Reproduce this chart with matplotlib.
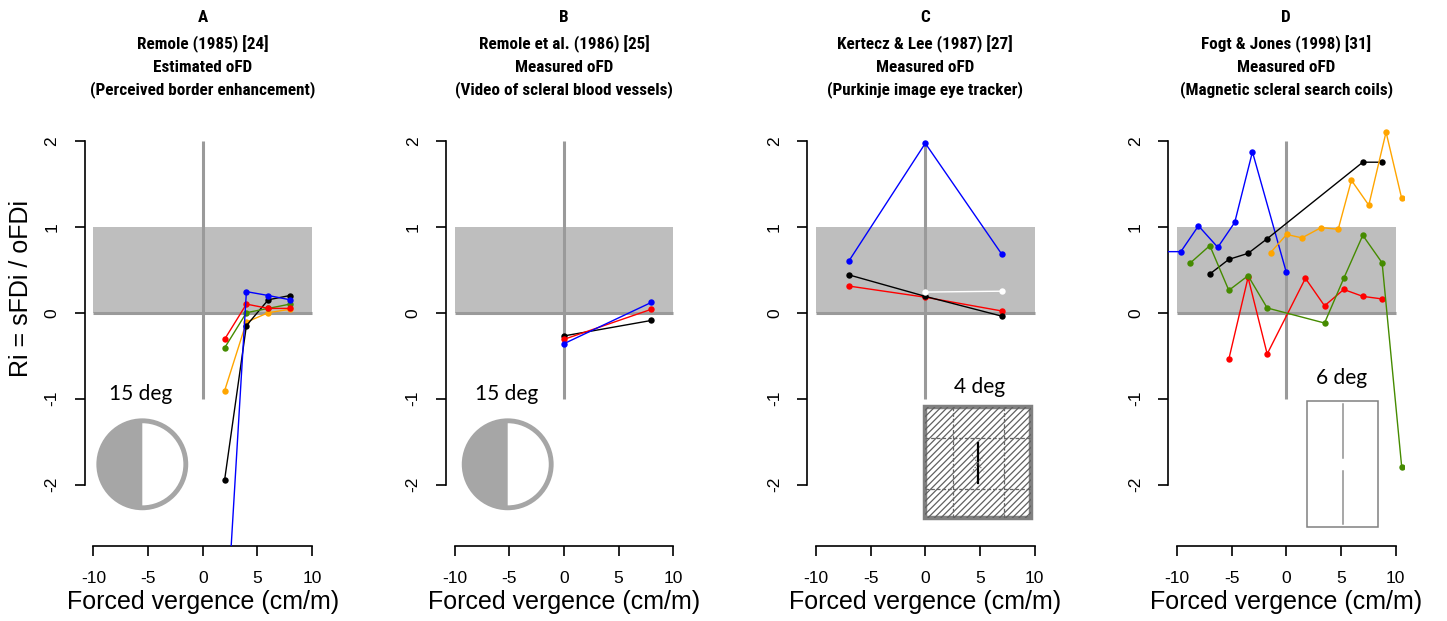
import matplotlib
matplotlib.use("Agg")
import matplotlib.pyplot as plt
from matplotlib.patches import Rectangle, Wedge, Circle
from matplotlib import font_manager
import numpy as np

# ---------------- data ----------------
A_x = [2, 4, 6, 8]
A_blue = [-4.0, 0.245, 0.20, 0.15]
A_red = [-0.31, 0.10, 0.05, 0.05]
A_green = [-0.41, 0.0, 0.05, 0.10]
A_orange = [-0.91, -0.11, 0.0, 0.04]
A_black = [-1.95, -0.15, 0.15, 0.20]

B_x = [0, 8]
B_black = [-0.27, -0.09]
B_red = [-0.31, 0.04]
B_blue = [-0.36, 0.12]

C_x = [-7, 0, 7]
C_blue = [0.60, 1.97, 0.68]
C_black = [0.44, 0.19, -0.04]
C_red = [0.31, 0.18, 0.02]
C_white_x = [0, 7]
C_white = [0.24, 0.25]

D_blue_x = [-11.3, -9.65, -8.04, -6.27, -4.72, -3.1, 0]
D_blue = [0.71, 0.71, 1.01, 0.76, 1.05, 1.87, 0.47]
D_black_x = [-7.0, -5.26, -3.5, -1.75, 7.0, 8.77]
D_black = [0.45, 0.62, 0.69, 0.86, 1.75, 1.75]
D_orange_x = [-1.43, 0.03, 1.43, 3.19, 4.75, 5.96, 7.55, 9.13, 10.56]
D_orange = [0.70, 0.91, 0.87, 0.99, 0.97, 1.54, 1.25, 2.10, 1.33]
D_red_x = [-5.26, -3.5, -1.75, 1.75, 3.5, 5.26, 7.0, 8.77]
D_red = [-0.54, 0.41, -0.48, 0.40, 0.08, 0.27, 0.19, 0.16]
D_green_x = [-8.77, -7.0, -5.26, -3.5, -1.75, 3.5, 5.26, 7.0, 8.77, 10.56]
D_green = [0.58, 0.78, 0.26, 0.43, 0.055, -0.12, 0.40, 0.90, 0.58, -1.79]

titles = [
    ["A", "Remole (1985) [24]", "Estimated oFD", "(Perceived border enhancement)"],
    ["B", "Remole et al. (1986) [25]", "Measured oFD", "(Video of scleral blood vessels)"],
    ["C", "Kertecz & Lee (1987) [27]", "Measured oFD", "(Purkinje image eye tracker)"],
    ["D", "Fogt & Jones (1998) [31]", "Measured oFD", "(Magnetic scleral search coils)"],
]
x_ticks = [-10, -5, 0, 5, 10]
y_ticks = [-2, -1, 0, 1, 2]
xlabel = "Forced vergence (cm/m)"
ylabel = "Ri = sFDi / oFDi"

BLUE = "#0000FF"; RED = "#FF0000"; GREEN = "#458B00"; ORANGE = "#FFA500"; BLACK = "#000000"

series = [
    [(A_x, A_orange, ORANGE), (A_x, A_black, BLACK), (A_x, A_green, GREEN), (A_x, A_red, RED), (A_x, A_blue, BLUE)],
    [(B_x, B_black, BLACK), (B_x, B_red, RED), (B_x, B_blue, BLUE)],
    [(C_x, C_blue, BLUE), (C_x, C_red, RED), (C_x, C_black, BLACK), (C_white_x, C_white, "#FFFFFF")],
    [(D_blue_x, D_blue, BLUE), (D_black_x, D_black, BLACK), (D_orange_x, D_orange, ORANGE),
     (D_red_x, D_red, RED), (D_green_x, D_green, GREEN)],
]


def first_font(cands):
    for name in cands:
        try:
            font_manager.findfont(font_manager.FontProperties(family=name, weight="bold"),
                                  fallback_to_default=False)
            return name
        except Exception:
            pass
    return None


narrow = first_font(['Liberation Sans Narrow', 'Arial Narrow', 'Roboto Condensed',
                     'Open Sans Condensed', 'PT Sans Narrow', 'Nimbus Sans Narrow'])
if narrow is not None:
    title_family = [narrow, 'Liberation Sans', 'DejaVu Sans']
    title_size = 12.3
    title_stretch = 'normal'
else:
    title_family = ['Liberation Sans', 'DejaVu Sans']
    title_size = 10.3
    title_stretch = 'normal'

# ---------------- layout ----------------
W, H = 1447, 621
fig = plt.figure(figsize=(W / 100, H / 100), dpi=100)
plt.rcParams['font.family'] = ['Liberation Sans', 'DejaVu Sans']

lefts = [84.7, 446.0, 807.3, 1168.3]
ax_w = 236.0
XLIM = (-10.8, 10.8)
YLIM = (-2.71, 2.3)
ppu_y = 86.0
y0_px = 312.7
bottom_px = y0_px - YLIM[0] * ppu_y
top_px = y0_px - YLIM[1] * ppu_y

title_y = [18, 44, 67, 90]

for i in range(4):
    ax = fig.add_axes([lefts[i] / W, 1 - bottom_px / H, ax_w / W, (bottom_px - top_px) / H])
    ax.set_xlim(*XLIM)
    ax.set_ylim(*YLIM)
    ax.add_patch(Rectangle((-10, 0), 20, 1, facecolor="#BEBEBE", edgecolor="none", zorder=1))
    ax.plot([-10, 10], [0, 0], color="#9A9A9A", lw=2.2, zorder=2, solid_capstyle="butt")
    ax.plot([0, 0], [-1, 2], color="#9A9A9A", lw=2.2, zorder=2, solid_capstyle="butt")
    for xs, ys, c in series[i]:
        ax.plot(xs, ys, color=c, lw=1.0, marker="o", markersize=4.6, markeredgewidth=0, zorder=3)
    for s in ["top", "right"]:
        ax.spines[s].set_visible(False)
    ax.spines["left"].set_bounds(-2, 2)
    ax.spines["bottom"].set_bounds(-10, 10)
    for s in ["left", "bottom"]:
        ax.spines[s].set_linewidth(1.2)
    ax.set_xticks(x_ticks)
    ax.set_yticks(y_ticks)
    ax.set_xticklabels([str(t) for t in x_ticks])
    ax.set_yticklabels([str(t) for t in y_ticks])
    ax.tick_params(axis="both", length=7.2, width=1.2, labelsize=12.5, direction="out")
    ax.tick_params(axis="x", pad=11)
    ax.tick_params(axis="y", pad=11, labelrotation=90)
    for lab in ax.get_yticklabels():
        lab.set_va("center")
    ax.patch.set_alpha(0)

    cx = lefts[i] + ax_w / 2
    for j, t in enumerate(titles[i]):
        fig.text(cx / W, 1 - title_y[j] / H, t, ha="center", va="center",
                 fontsize=title_size, fontweight="bold", family=title_family,
                 fontstretch=title_stretch)
    fig.text(cx / W, 1 - 602 / H, xlabel, ha="center", va="center", fontsize=18)

fig.text(21 / W, 1 - 288 / H, ylabel, ha="center", va="center", rotation=90, fontsize=18)

# ---------------- insets (pixel overlay) ----------------
ov = fig.add_axes([0, 0, 1, 1], zorder=10)
ov.set_xlim(0, W)
ov.set_ylim(H, 0)
ov.axis("off")
ov.patch.set_alpha(0)

deg_font = ['Lato', 'DejaVu Sans']
RING = "#A6A6A6"
for (cx, cy, tx, ty) in [(142.3, 464.3, 141, 394), (507.7, 464.3, 506.7, 394)]:
    ov.add_patch(Wedge((cx, cy), 45, 90, 270, facecolor=RING, edgecolor="none"))
    ov.add_patch(Circle((cx, cy), 43.5, facecolor="none", edgecolor=RING, lw=3.5))
    ov.text(tx, ty, "15 deg", ha="center", va="center", fontsize=15, family=deg_font)

# C inset: hatched square
x1, y1, x2, y2 = 925.0, 407.3, 1030.7, 518.3
clip = Rectangle((x1, y1), x2 - x1, y2 - y1, facecolor="white", edgecolor="none")
ov.add_patch(clip)
for c in np.arange(x1 + y1 - 10, x2 + y2 + 10, 6.5):
    ln, = ov.plot([x1 - 5, x2 + 5], [c - (x1 - 5), c - (x2 + 5)], color="#606060", lw=0.9)
    ln.set_clip_path(clip)
for gx in [952.7, 1004.0]:
    ov.plot([gx, gx], [y1, y2], color="#666666", lw=0.9, ls=(0, (3, 1.5)))
for gy in [437.7, 489.3]:
    ov.plot([x1, x2], [gy, gy], color="#666666", lw=0.9, ls=(0, (3, 1.5)))
ov.plot([978.3, 978.3], [443.3, 482.7], color="black", lw=1.6)
ov.plot([972, 984], [455, 472], color="#666666", lw=0.7, ls=(0, (1.5, 1.5)))
ov.plot([984, 972], [455, 472], color="#666666", lw=0.7, ls=(0, (1.5, 1.5)))
ov.add_patch(Rectangle((x1, y1), x2 - x1, y2 - y1, facecolor="none", edgecolor="#808080", lw=3.2))
ov.text(979.3, 386.7, "4 deg", ha="center", va="center", fontsize=15, family=deg_font)

# D inset: rectangle with vertical line
ov.add_patch(Rectangle((1307, 400.7), 71.3, 126.6, facecolor="white", edgecolor="#808080", lw=1.1))
ov.plot([1342.7, 1342.7], [404, 458.3], color="#909090", lw=1.1)
ov.plot([1342.7, 1342.7], [470.7, 524], color="#909090", lw=1.1)
ov.text(1341.7, 378.3, "6 deg", ha="center", va="center", fontsize=15, family=deg_font)

fig.savefig("out.png", dpi=100)
